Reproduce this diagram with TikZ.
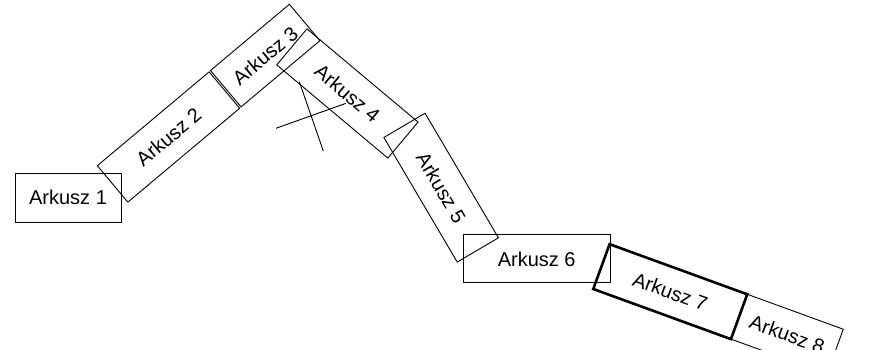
\documentclass[tikz,border=0pt]{standalone}
\usepackage{fontspec}
\setmainfont{Liberation Sans}
\tikzset{
  sheet/.style={draw=black, line width=0.9pt, inner sep=0pt, align=center,
    font=\fontsize{20pt}{24pt}\selectfont},
  wide/.style={minimum width=146pt, minimum height=47.5pt},
  short/.style={minimum width=103pt, minimum height=47.5pt},
  boldsheet/.style={line width=2.6pt},
  cross/.style={draw=black, line width=0.9pt}
}
\begin{document}
\begin{tikzpicture}[x=1pt,y=1pt]
\useasboundingbox (0,0) rectangle (880,350);
\clip (0,0) rectangle (880,350);
\node[sheet, minimum width=106pt, minimum height=49pt] (a1) at (68,152.5) {Arkusz 1};
\node[sheet, wide, rotate=40] (a2) at (168.5,213) {Arkusz 2};
\node[sheet, short, rotate=40] (a3) at (265.2,294.4) {Arkusz 3};
\node[sheet, wide, minimum width=145pt, minimum height=47pt, rotate=-40] (a4) at (347.4,256.5) {Arkusz 4};
\node[sheet, wide, minimum width=144.6pt, minimum height=47.8pt, rotate=-59.5] (a5) at (441.15,162.35) {Arkusz 5};
\node[sheet, minimum width=147pt, minimum height=48pt] (a6) at (536.7,91.1) {Arkusz 6};
\node[sheet, wide, boldsheet, minimum width=146.5pt, minimum height=47.7pt, rotate=-20] (a7) at (670.25,58.35) {Arkusz 7};
\node[sheet, short, minimum width=102pt, minimum height=47.7pt, rotate=-20] (a8) at (787.2,15.8) {Arkusz 8};
\coordinate (x1a) at (299.3,268.3);
\coordinate (x1b) at (323.3,199);
\coordinate (x2a) at (276,221.7);
\coordinate (x2b) at (346,246.7);
\draw[cross] (x1a) -- (x1b);
\draw[cross] (x2a) -- (x2b);
\end{tikzpicture}
\end{document}
